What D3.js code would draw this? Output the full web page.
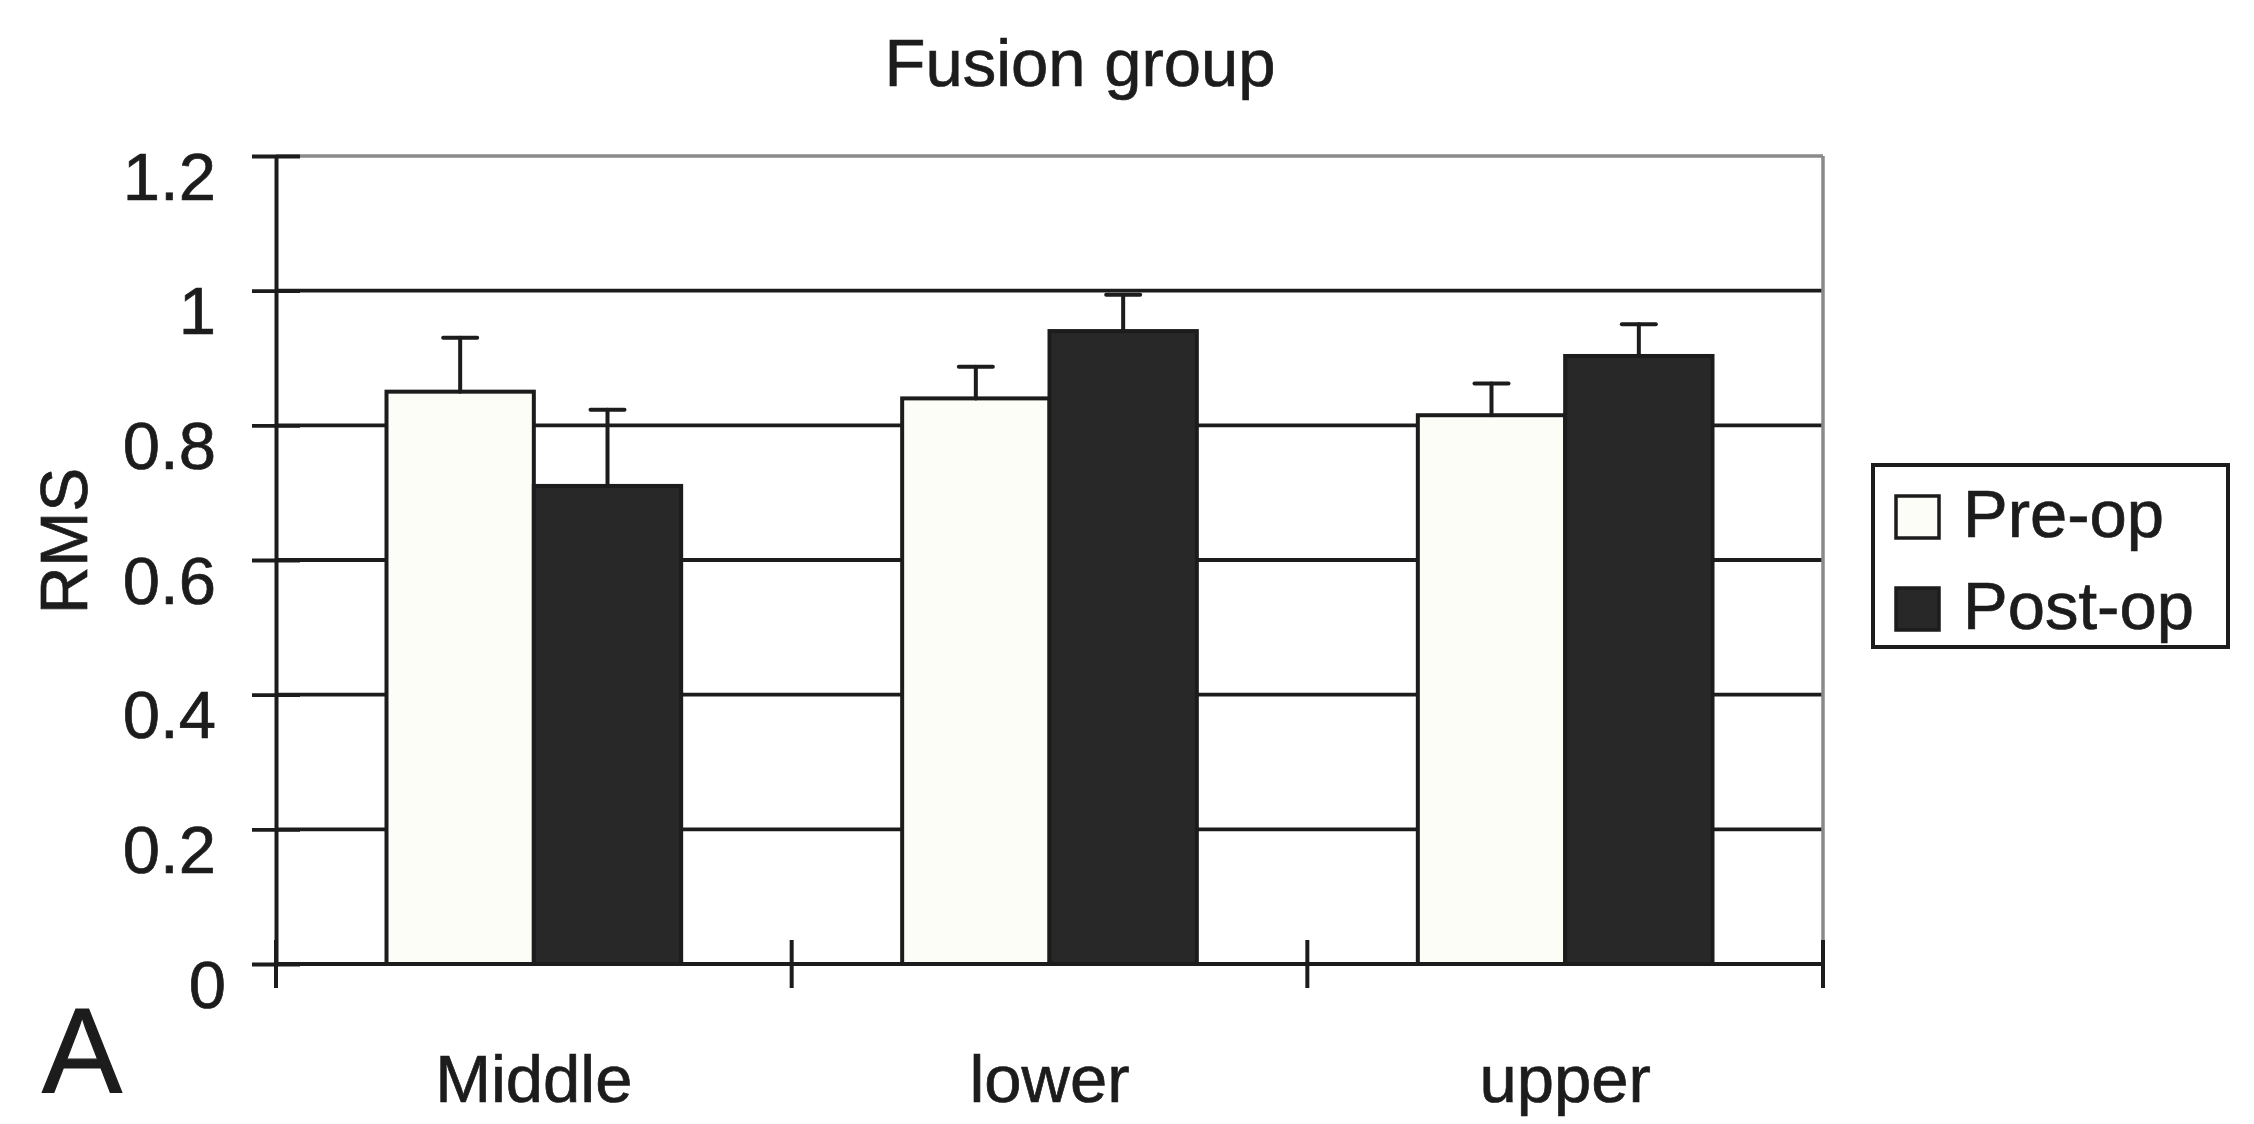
<!DOCTYPE html>
<html>
<head>
<meta charset="utf-8">
<script src="https://cdn.jsdelivr.net/npm/d3@7"></script>
<style>
  html, body { margin: 0; padding: 0; background: #ffffff; }
  svg { display: block; }
  text {
    font-family: "Liberation Sans", Arial, Helvetica, sans-serif;
    fill: #1c1c1c;
    stroke: #1c1c1c;
    stroke-width: 0.7px;
  }
</style>
</head>
<body>
<svg id="chart" width="2254" height="1124"></svg>
<script>
// Chart data
const categories = ["Middle", "lower", "upper"];
const seriesNames = ["Pre-op", "Post-op"];
const preValues  = [0.85, 0.84, 0.815];
const preErrors  = [0.08, 0.047, 0.047];
const postValues = [0.71, 0.94, 0.903];
const postErrors = [0.113, 0.054, 0.047];
const yTicks = [0, 0.2, 0.4, 0.6, 0.8, 1, 1.2];
const yTickLabels = ["0", "0.2", "0.4", "0.6", "0.8", "1", "1.2"];
const titleText = "Fusion group";
const yAxisTitle = "RMS";
const panelLetter = "A";

const fills = { "Pre-op": "#fdfdf7", "Post-op": "#282828" };
const ink = "#1c1c1c";

const rows = categories.map((c, i) => ({
  category: c,
  bars: [
    { series: "Pre-op", value: preValues[i], err: preErrors[i] },
    { series: "Post-op", value: postValues[i], err: postErrors[i] }
  ]
}));

const svg = d3.select("#chart");
const plot = { left: 276, right: 1823, top: 156, bottom: 964 };

const x0 = d3.scaleBand().domain(categories).range([plot.left, plot.right]).paddingInner(0).paddingOuter(0);
const x1 = d3.scaleBand().domain(seriesNames).range([0, x0.bandwidth()]).paddingInner(0).paddingOuter(0.75);
const y = d3.scaleLinear().domain([0, 1.2]).range([plot.bottom, plot.top]);

// Horizontal gridlines
svg.append("g")
  .selectAll("line")
  .data(yTicks.filter(t => t > 0 && t < 1.2))
  .join("line")
  .attr("x1", plot.left).attr("x2", plot.right)
  .attr("y1", d => y(d)).attr("y2", d => y(d))
  .attr("stroke", ink).attr("stroke-width", 3.8);

// Top and right frame (grey)
svg.append("line")
  .attr("x1", plot.left).attr("x2", plot.right)
  .attr("y1", y(1.2)).attr("y2", y(1.2))
  .attr("stroke", "#8a8a8a").attr("stroke-width", 3.5);
svg.append("line")
  .attr("x1", plot.right).attr("x2", plot.right)
  .attr("y1", y(1.2)).attr("y2", y(0))
  .attr("stroke", "#8a8a8a").attr("stroke-width", 3.5);

// Bars
const groups = svg.append("g")
  .selectAll("g")
  .data(rows)
  .join("g")
  .attr("transform", d => `translate(${x0(d.category)},0)`);

groups.selectAll("rect")
  .data(d => d.bars)
  .join("rect")
  .attr("x", d => x1(d.series))
  .attr("width", x1.bandwidth())
  .attr("y", d => y(d.value))
  .attr("height", d => y(0) - y(d.value))
  .attr("fill", d => fills[d.series])
  .attr("stroke", ink)
  .attr("stroke-width", 4);

// Error bars (upper half only)
const capHalf = 17;
const eb = groups.selectAll("g.err")
  .data(d => d.bars)
  .join("g")
  .attr("class", "err")
  .attr("stroke", ink)
  .attr("stroke-width", 4)
  .attr("stroke-linecap", "round");
eb.append("line")
  .attr("x1", d => x1(d.series) + x1.bandwidth() / 2)
  .attr("x2", d => x1(d.series) + x1.bandwidth() / 2)
  .attr("y1", d => y(d.value))
  .attr("y2", d => y(d.value + d.err));
eb.append("line")
  .attr("x1", d => x1(d.series) + x1.bandwidth() / 2 - capHalf)
  .attr("x2", d => x1(d.series) + x1.bandwidth() / 2 + capHalf)
  .attr("y1", d => y(d.value + d.err))
  .attr("y2", d => y(d.value + d.err));

// Y axis with ticks crossing the line
const yAxis = d3.axisLeft(y)
  .tickValues(yTicks)
  .tickFormat((d, i) => yTickLabels[i])
  .tickSizeInner(24)
  .tickSizeOuter(0)
  .tickPadding(36);
const gy = svg.append("g")
  .attr("transform", `translate(${plot.left},0)`)
  .call(yAxis);
gy.select(".domain").attr("stroke", ink).attr("stroke-width", 4);
gy.selectAll(".tick line").attr("stroke", ink).attr("stroke-width", 3.8).attr("x2", -24).attr("x1", 24);
gy.selectAll(".tick text")
  .attr("dy", null)
  .attr("y", 43)
  .attr("x", d => d === 0 ? -50 : -60)
  .attr("font-size", 67)
  .attr("fill", ink);

// X axis: category boundaries with crossing ticks
const gx = svg.append("g");
gx.append("line")
  .attr("x1", plot.left).attr("x2", plot.right)
  .attr("y1", y(0)).attr("y2", y(0))
  .attr("stroke", ink).attr("stroke-width", 4);
const boundaries = categories.map(c => x0(c)).concat([x0(categories[categories.length - 1]) + x0.bandwidth()]);
gx.selectAll("line.cb")
  .data(boundaries)
  .join("line")
  .attr("class", "cb")
  .attr("x1", d => d).attr("x2", d => d)
  .attr("y1", y(0) - 24).attr("y2", y(0) + 24)
  .attr("stroke", ink).attr("stroke-width", 4);
gx.selectAll("text")
  .data(categories)
  .join("text")
  .attr("x", d => x0(d) + x0.bandwidth() / 2)
  .attr("y", 1102)
  .attr("text-anchor", "middle")
  .attr("font-size", 67)
  .text(d => d);

// Title
svg.append("text")
  .attr("x", 1080)
  .attr("y", 86)
  .attr("text-anchor", "middle")
  .attr("font-size", 67)
  .text(titleText);

// Y axis title
svg.append("text")
  .attr("transform", "translate(87,541) rotate(-90)")
  .attr("text-anchor", "middle")
  .attr("font-size", 66)
  .text(yAxisTitle);

// Panel letter
svg.append("text")
  .attr("x", 42)
  .attr("y", 1092)
  .attr("font-size", 120)
  .style("stroke-width", "1.2px")
  .text(panelLetter);

// Legend
const legend = svg.append("g");
legend.append("rect")
  .attr("x", 1873).attr("y", 465)
  .attr("width", 355).attr("height", 182)
  .attr("fill", "#ffffff")
  .attr("stroke", ink).attr("stroke-width", 4);
const items = legend.selectAll("g.item")
  .data(seriesNames)
  .join("g")
  .attr("class", "item")
  .attr("transform", (d, i) => `translate(0,${i * 92})`);
items.append("rect")
  .attr("x", 1896).attr("y", 496)
  .attr("width", 43).attr("height", 42)
  .attr("fill", d => fills[d])
  .attr("stroke", ink).attr("stroke-width", 3.5);
items.append("text")
  .attr("x", 1963).attr("y", 537)
  .attr("font-size", 67)
  .text(d => d);
</script>
</body>
</html>
